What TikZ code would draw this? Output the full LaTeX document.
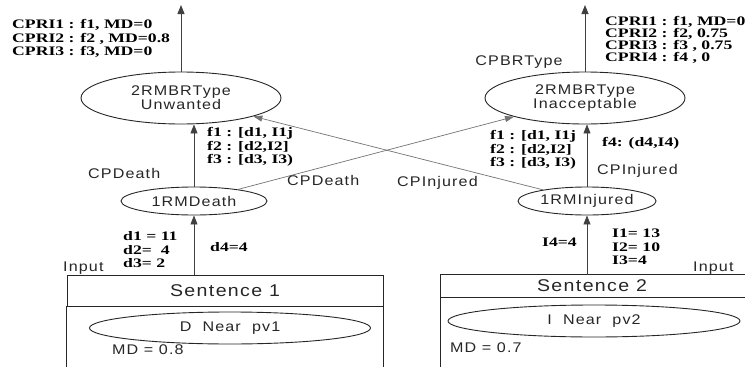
\documentclass[tikz,border=0pt]{standalone}
\usepackage{fontspec}
\usepackage{graphicx}
\usepackage{tikz}
\usetikzlibrary{arrows.meta, positioning, shapes.geometric}
\newfontfamily\serifb{Liberation Serif Bold}
\newfontfamily\sansw[FakeStretch=1.15,LetterSpace=8]{Liberation Sans}
\newcommand{\wb}[1]{\scalebox{1.36}[1]{#1}}

\begin{document}
\begin{tikzpicture}[x=1pt, y=-1pt,
    oval/.style={ellipse, draw=black!85, line width=0.9pt, inner sep=0pt},
    lbl/.style={font=\sansw\fontsize{14}{14}\selectfont, text=black!85, inner sep=0pt, align=center},
    val/.style={font=\serifb\fontsize{13}{13.5}\selectfont, align=left, inner sep=0pt, anchor=west},
    arr/.style={-{Triangle[length=9pt, width=7pt]}, line width=0.9pt, draw=black!75},
    link/.style={-{Triangle[length=9pt, width=6pt]}, line width=0.7pt, draw=black!55}]
    \useasboundingbox (0,0) rectangle (745,367);

    % rule nodes
    \node[oval, lbl, minimum width=200pt, minimum height=52pt] (unw) at (181,98) {2RMBRType\\Unwanted};
    \node[oval, lbl, minimum width=200pt, minimum height=52pt] (inacc) at (585,98) {2RMBRType\\Inacceptable};
    \node[oval, lbl, minimum width=146pt, minimum height=28pt] (death) at (194,201) {1RMDeath};
    \node[oval, lbl, minimum width=138pt, minimum height=28pt] (injured) at (587,201) {1RMInjured};

    % sentences
    \node[draw=black!85, line width=0.8pt, lbl, font=\sansw\fontsize{17}{17}\selectfont, minimum width=316pt, minimum height=31pt] (sen1) at (225,290.5) {Sentence 1};
    \draw[line width=0.8pt, black!85] (sen1.south west) -- ++(0,62);
    \draw[line width=0.8pt, black!85] (sen1.south east) -- ++(0,62);
    \node[oval, lbl, minimum width=281pt, minimum height=32pt] (near1) at (230,328) {D\ \ Near\ \ pv1};
    \node[lbl, anchor=west] (md1) at (112,350) {MD = 0.8};

    \node[lbl, font=\sansw\fontsize{17}{17}\selectfont, minimum width=302pt, minimum height=22pt] (sen2) at (592,286) {Sentence 2};
    \draw[line width=0.8pt, black!85] (sen2.south west) -- (sen2.north west) -- ++(304,0);
    \draw[line width=0.8pt, black!85] (sen2.south west) -- ++(304,0);
    \draw[line width=0.8pt, black!85] (sen2.south west) -- ++(0,75);
    \node[oval, lbl, minimum width=292pt, minimum height=32pt] (near2) at (594,321) {I\ \ Near\ \ pv2};
    \node[lbl, anchor=west] (md2) at (450,348) {MD = 0.7};

    % outputs
    \coordinate (outL) at (181,5);
    \coordinate (outR) at (585,5);
    \draw[arr] (unw) -- (outL);
    \draw[arr] (inacc) -- (outR);
    \draw[arr] (death.north) -- (death.north |- unw.south);
    \draw[arr] (injured.north) -- (injured.north |- inacc.south);
    \draw[arr] (death |- sen1.north) -- (death.south);
    \draw[arr] (injured |- sen2.north) -- (injured.south);
    \draw[link] (death) -- (inacc);
    \draw[link] (injured) -- (unw);

    % labels
    \node[val] (cpriL) at (12,38.5) {\wb{CPRI1 : f1, MD=0}\\\wb{CPRI2 : f2 , MD=0.8}\\\wb{CPRI3 : f3, MD=0}};
    \node[val, font=\serifb\fontsize{13}{12}\selectfont] (cpriR) at (605,40) {\wb{CPRI1 : f1, MD=0}\\\wb{CPRI2 : f2, 0.75}\\\wb{CPRI3 : f3 , 0.75}\\\wb{CPRI4 : f4 , 0}};
    \node[lbl] (cpbr) at (519,62) {CPBRType};
    \node[val] (fL) at (207,147) {\wb{f1 : [d1, I1j}\\\wb{f2 : [d2,I2]}\\\wb{f3 : [d3, I3)}};
    \node[val] (fR) at (490,150) {\wb{f1 : [d1, I1j}\\\wb{f2 : [d2,I2]}\\\wb{f3 : [d3, I3)}};
    \node[val] (f4) at (602,143) {\wb{f4: (d4,I4)}};
    \node[lbl, anchor=west] (cpdL) at (88,173) {CPDeath};
    \node[lbl, anchor=west] (cpdM) at (287,180) {CPDeath};
    \node[lbl, anchor=west] (cpiM) at (397,183) {CPInjured};
    \node[lbl, anchor=west] (cpiR) at (597,171) {CPInjured};
    \node[val] (dvals) at (123,250) {\wb{d1 = 11}\\\wb{d2=\ \ 4}\\\wb{d3= 2}};
    \node[val] (d4) at (210,247) {\wb{d4=4}};
    \node[lbl, anchor=west] (inL) at (63,268) {Input};
    \node[val] (i4) at (542,242) {\wb{I4=4}};
    \node[val] (ivals) at (612,247) {\wb{I1= 13}\\\wb{I2= 10}\\\wb{I3=4}};
    \node[lbl, anchor=west] (inR) at (693,268) {Input};
\end{tikzpicture}
\end{document}
